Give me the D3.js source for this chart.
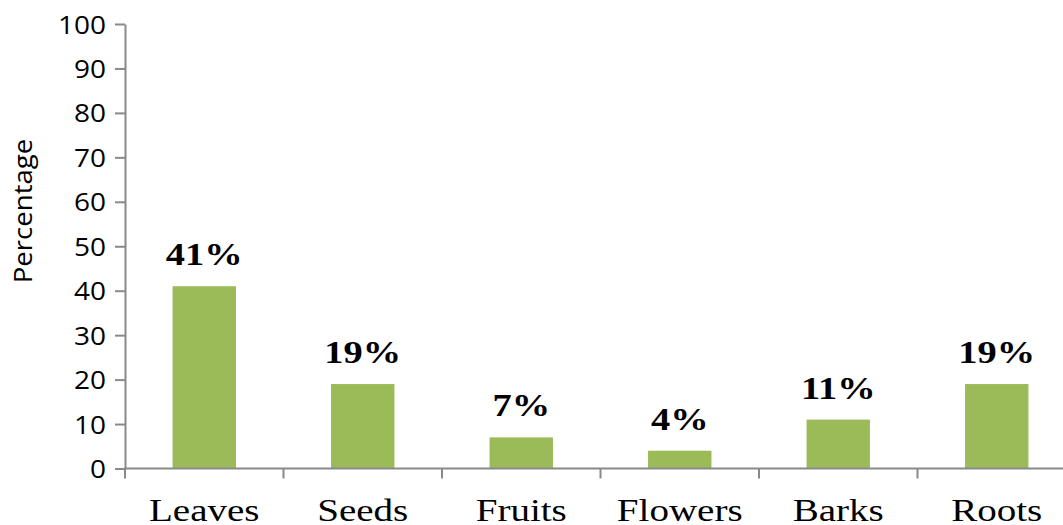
<!DOCTYPE html>
<html>
<head>
<meta charset="utf-8">
<script src="https://cdn.jsdelivr.net/npm/d3@7"></script>
<style>
  html, body { margin: 0; padding: 0; background: #fff; }
  svg { display: block; }
</style>
</head>
<body>
<svg id="chart" width="1063" height="525"></svg>
<script>
// Plant parts used and their share (%)
const categories = ["Leaves", "Seeds", "Fruits", "Flowers", "Barks", "Roots"];
const values = [41, 19, 7, 4, 11, 19];
const valueLabels = ["41%", "19%", "7%", "4%", "11%", "19%"];
const yTicks = [0, 10, 20, 30, 40, 50, 60, 70, 80, 90, 100];

const svg = d3.select("#chart");
const W = 1063, H = 525;
const plotLeft = 125, plotRight = 1076, plotTop = 24, plotBottom = 468.5;

const x = d3.scaleBand()
  .domain(categories)
  .range([plotLeft, plotRight])
  .paddingInner(0.6)
  .paddingOuter(0.3);

const y = d3.scaleLinear().domain([0, 100]).range([plotBottom, plotTop]);

const axisColor = "#898989";

// Bars
svg.append("g")
  .selectAll("rect")
  .data(categories)
  .join("rect")
  .attr("x", d => x(d))
  .attr("width", x.bandwidth())
  .attr("y", (d, i) => y(values[i]))
  .attr("height", (d, i) => y(0) - y(values[i]))
  .attr("fill", "#9BBB59");

// Y axis
const yAxis = svg.append("g")
  .attr("transform", `translate(${plotLeft},0)`)
  .call(d3.axisLeft(y).tickValues(yTicks).tickSize(10).tickPadding(9).tickSizeOuter(0));
yAxis.select(".domain").attr("stroke", axisColor).attr("stroke-width", 2);
yAxis.selectAll(".tick line").attr("stroke", axisColor).attr("stroke-width", 2);
yAxis.selectAll(".tick text")
  .attr("fill", "#000")
  .style("font-family", "'Open Sans', sans-serif")
  .style("font-size", "25px")
  .attr("dy", "0.36em")
  .each(function() {
    // stretch horizontally around the right edge of the label
    const t = d3.select(this);
    const xr = +t.attr("x");
    t.attr("transform", `translate(${xr},0) scale(1.12,1) translate(${-xr},0)`);
  });

// X axis line spanning to the edge
svg.append("line")
  .attr("x1", plotLeft - 1).attr("x2", W)
  .attr("y1", y(0)).attr("y2", y(0))
  .attr("stroke", axisColor).attr("stroke-width", 2);

// X axis ticks at category boundaries
const step = x.step();
const boundaries = d3.range(categories.length + 1).map(i => plotLeft + i * step);
svg.append("g")
  .selectAll("line")
  .data(boundaries.filter(b => b <= W))
  .join("line")
  .attr("x1", d => d).attr("x2", d => d)
  .attr("y1", y(0)).attr("y2", y(0) + 10)
  .attr("stroke", axisColor).attr("stroke-width", 2);

// Category labels
svg.append("g")
  .selectAll("text")
  .data(categories)
  .join("text")
  .attr("transform", d => `translate(${x(d) + x.bandwidth() / 2},521) scale(1.26,1)`)
  .attr("text-anchor", "middle")
  .style("font-family", "'Liberation Serif', 'Times New Roman', serif")
  .style("font-size", "31px")
  .attr("fill", "#000")
  .text(d => d);

// Value labels above the bars
svg.append("g")
  .selectAll("text")
  .data(categories)
  .join("text")
  .attr("transform", (d, i) => `translate(${x(d) + x.bandwidth() / 2},${y(values[i]) - 21}) scale(1.24,1)`)
  .attr("text-anchor", "middle")
  .style("font-family", "'Liberation Serif', 'Times New Roman', serif")
  .style("font-size", "31px")
  .style("font-weight", "bold")
  .attr("fill", "#000")
  .text((d, i) => valueLabels[i]);

// Y axis title
svg.append("text")
  .attr("transform", "translate(32,211) rotate(-90) scale(1.06,1)")
  .attr("text-anchor", "middle")
  .style("font-family", "'Open Sans', sans-serif")
  .style("font-size", "26px")
  .attr("fill", "#000")
  .text("Percentage");
</script>
</body>
</html>
